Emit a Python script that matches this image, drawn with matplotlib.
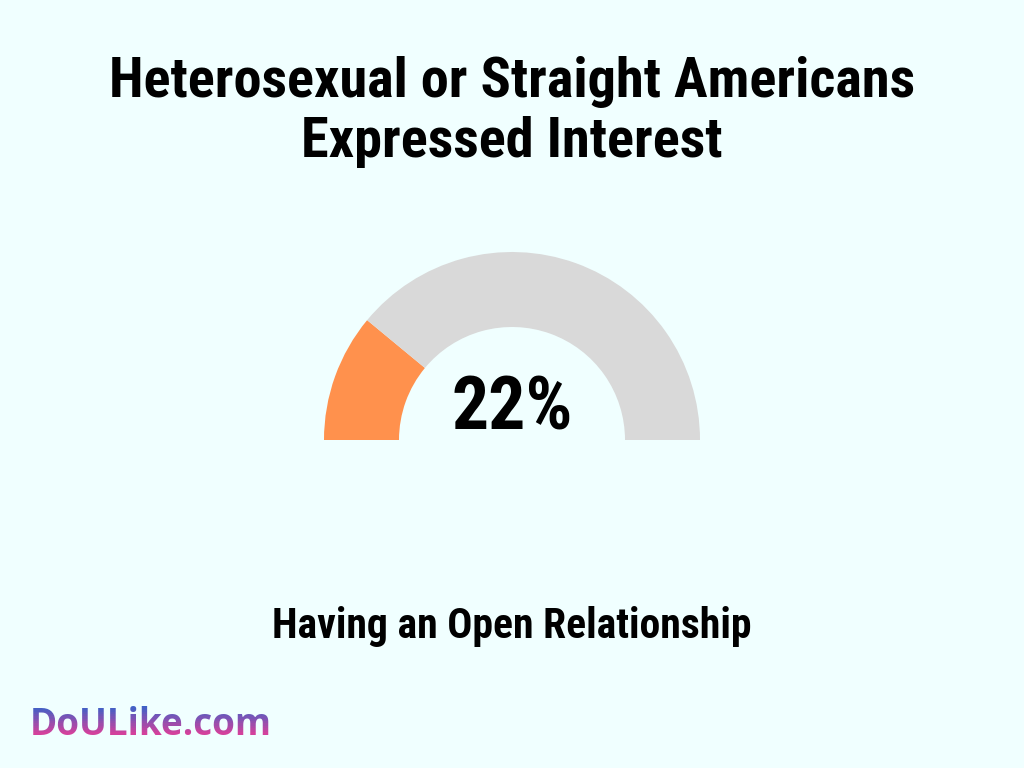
import matplotlib
matplotlib.use("Agg")
import matplotlib.pyplot as plt
from matplotlib.patches import Wedge, Rectangle
from matplotlib import font_manager as fm
import numpy as np

title_lines = ["Heterosexual or Straight Americans", "Expressed Interest"]
value = 22
label = "Having an Open Relationship"
logo = "DoULike.com"

bg = "#F0FFFF"
c_fill = "#FF914D"
c_rest = "#D9D9D9"

names = {f.name for f in fm.fontManager.ttflist}
cond = None
for n in ["Liberation Sans Narrow", "DejaVu Sans Condensed", "Roboto Condensed", "Open Sans Condensed"]:
    if n in names:
        cond = n
        break
if cond is None:
    cond = "DejaVu Sans"

fig = plt.figure(figsize=(10.24, 7.68), dpi=100, facecolor=bg)
ax = fig.add_axes([0, 0, 1, 1])
ax.set_xlim(0, 1024)
ax.set_ylim(768, 0)
ax.axis("off")
ax.set_facecolor(bg)

cx, cy, r_out, r_in = 512, 440, 188, 113
theta_split = 180 - value / 100 * 180
ax.add_patch(Wedge((cx, cy), r_out, 180, 360 - theta_split, width=r_out - r_in,
                   facecolor=c_fill, edgecolor="none"))
ax.add_patch(Wedge((cx, cy), r_out, 360 - theta_split, 360, width=r_out - r_in,
                   facecolor=c_rest, edgecolor="none"))

ax.text(512, 97, title_lines[0], ha="center", va="baseline", fontsize=40.5,
        fontweight="bold", family=cond, color="black")
ax.text(512, 157, title_lines[1], ha="center", va="baseline", fontsize=40.5,
        fontweight="bold", family=cond, color="black")
ax.text(512, 430, f"{value}%", ha="center", va="baseline", fontsize=53,
        fontweight="bold", family=cond, color="black")
ax.text(512, 638, label, ha="center", va="baseline", fontsize=30,
        fontweight="bold", family=cond, color="black")

# gradient logo from stacked clipped text copies
top, bot = 705, 737
c1 = np.array([0x3A, 0x62, 0xC8]) / 255
c2 = np.array([0xE0, 0x3E, 0x98]) / 255
n = 14
edges = np.linspace(top, bot, n + 1)
for i in range(n):
    t = i / (n - 1)
    col = c1 * (1 - t) + c2 * t
    y0 = edges[i] if i > 0 else 680
    y1 = edges[i + 1] if i < n - 1 else 760
    txt = ax.text(30, 735, logo, ha="left", va="baseline", fontsize=26.6,
                  fontweight="bold", family="Open Sans", color=col, clip_on=True)
    clip = Rectangle((0, y0), 400, y1 - y0, transform=ax.transData)
    txt.set_clip_path(clip)

fig.savefig("out.png", dpi=100, facecolor=bg)
